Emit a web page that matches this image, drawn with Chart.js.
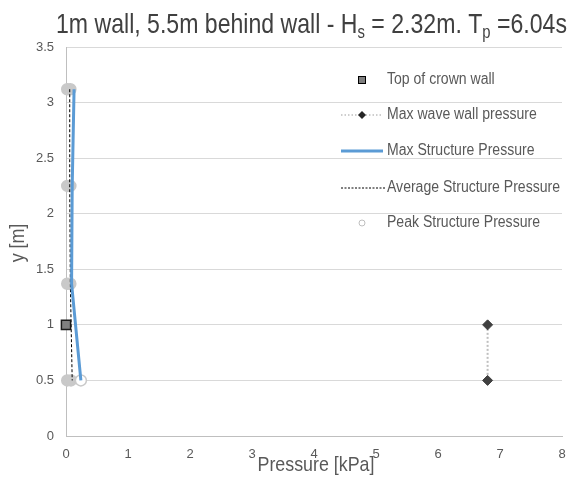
<!DOCTYPE html>
<html>
<head>
<meta charset="utf-8">
<script src="https://cdn.jsdelivr.net/npm/chart.js@4.4.0/dist/chart.umd.min.js"></script>
<style>
html,body{margin:0;padding:0;background:#fff;}
canvas{display:block;}
</style>
</head>
<body>
<canvas id="c" width="570" height="479"></canvas>
<script>
// ---- data ----
const crownWallX = [0];
const crownWallY = [1];
const waveWallX = [6.8, 6.8];
const waveWallY = [1, 0.5];
const structLevels = [3.12, 2.25, 1.37, 0.5];
const maxStructX = [0.13, 0.10, 0.09, 0.24];
const avgStructX = [0.06, 0.06, 0.07, 0.10];
const peakX = [0.02, 0.07, 0.02, 0.07, 0.02, 0.07, 0.02, 0.08, 0.24];
const peakY = [3.12, 3.12, 2.25, 2.25, 1.37, 1.37, 0.5, 0.5, 0.5];
const yTickLabels = ['0', '0.5', '1', '1.5', '2', '2.5', '3', '3.5'];
const xTickLabels = ['0', '1', '2', '3', '4', '5', '6', '7', '8'];
const seriesNames = ['Top of crown wall', 'Max wave wall pressure', 'Max Structure Pressure', 'Average Structure Pressure', 'Peak Structure Pressure'];

const pts = (xs, ys) => xs.map((x, i) => ({x, y: ys[i]}));
const FONT = "'Liberation Sans', Arial, sans-serif";
const TXT = '#595959';

// draw horizontally condensed text (Arial Narrow look)
function narrowText(ctx, text, x, y, font, align, sx) {
  ctx.save();
  ctx.font = font;
  ctx.textAlign = align;
  ctx.translate(x, y);
  ctx.scale(sx, 1);
  ctx.fillText(text, 0, 0);
  ctx.restore();
}

const overlay = {
  id: 'overlay',
  afterDraw(chart) {
    const ctx = chart.ctx;
    ctx.save();
    // title with subscripts
    const big = "28px " + FONT, small = "18px " + FONT;
    const parts = [
      ['1m wall, 5.5m behind wall - H', big, 0],
      ['s', small, 5],
      [' = 2.32m. T', big, 0],
      ['p', small, 5],
      [' =6.04s', big, 0]
    ];
    let w = 0;
    parts.forEach(p => { ctx.font = p[1]; w += ctx.measureText(p[0]).width; });
    const tsx = 511 / w;
    ctx.fillStyle = '#404040';
    ctx.textBaseline = 'alphabetic';
    ctx.save();
    ctx.translate(56, 33);
    ctx.scale(tsx, 1);
    let x = 0;
    parts.forEach(p => { ctx.font = p[1]; ctx.textAlign = 'left'; ctx.fillText(p[0], x, p[2]); x += ctx.measureText(p[0]).width; });
    ctx.restore();

    // axis titles
    ctx.fillStyle = TXT;
    ctx.textBaseline = 'middle';
    const af = "21px " + FONT;
    ctx.font = af;
    const asx = 117 / ctx.measureText('Pressure [kPa]').width;
    narrowText(ctx, 'Pressure [kPa]', 316, 465, af, 'center', asx);
    ctx.save();
    ctx.translate(18, 243);
    ctx.rotate(-Math.PI / 2);
    narrowText(ctx, 'y [m]', 0, 0, af, 'center', asx);
    ctx.restore();

    // legend
    const rows = [80, 115, 151, 188, 223];
    const lx0 = 341, lx1 = 383, mx = 362, tx = 387;
    const lf = "16px " + FONT;
    ctx.font = lf;
    const lsx = 173 / ctx.measureText(seriesNames[3]).width;
    ctx.textBaseline = 'middle';
    rows.forEach((ry, i) => {
      ctx.fillStyle = TXT;
      narrowText(ctx, seriesNames[i], tx, ry, lf, 'left', lsx);
    });
    // 0: square
    ctx.fillStyle = '#7F7F7F'; ctx.strokeStyle = '#000'; ctx.lineWidth = 1;
    ctx.fillRect(mx - 3.5, rows[0] - 3.5, 7, 7); ctx.strokeRect(mx - 3.5, rows[0] - 3.5, 7, 7);
    // 1: dotted line + diamond
    ctx.strokeStyle = '#BFBFBF'; ctx.lineWidth = 1.5; ctx.setLineDash([1.5, 2]);
    ctx.beginPath(); ctx.moveTo(lx0, rows[1]); ctx.lineTo(lx1, rows[1]); ctx.stroke();
    ctx.setLineDash([]);
    ctx.fillStyle = '#262626';
    ctx.beginPath(); ctx.moveTo(mx, rows[1] - 4); ctx.lineTo(mx + 4, rows[1]); ctx.lineTo(mx, rows[1] + 4); ctx.lineTo(mx - 4, rows[1]); ctx.closePath(); ctx.fill();
    // 2: blue line
    ctx.strokeStyle = '#5B9BD5'; ctx.lineWidth = 3;
    ctx.beginPath(); ctx.moveTo(lx0, rows[2]); ctx.lineTo(lx1, rows[2]); ctx.stroke();
    // 3: dashed black
    ctx.strokeStyle = '#000'; ctx.lineWidth = 1; ctx.setLineDash([2, 1.5]);
    ctx.beginPath(); ctx.moveTo(lx0, rows[3]); ctx.lineTo(lx1 + 2, rows[3]); ctx.stroke();
    ctx.setLineDash([]);
    // 4: hollow circle
    ctx.strokeStyle = '#BFBFBF'; ctx.lineWidth = 1; ctx.fillStyle = '#fff';
    ctx.beginPath(); ctx.arc(mx, rows[4], 3, 0, Math.PI * 2); ctx.fill(); ctx.stroke();
    ctx.restore();
  }
};

new Chart(document.getElementById('c'), {
  type: 'scatter',
  data: {
    datasets: [
      {
        label: seriesNames[1],
        data: pts(waveWallX, waveWallY),
        showLine: true,
        clip: false,
        borderColor: '#BFBFBF',
        borderWidth: 2,
        borderDash: [2, 2],
        pointStyle: 'rectRot',
        pointRadius: 5,
        pointBackgroundColor: '#404040',
        pointBorderColor: '#404040',
        pointBorderWidth: 1,
        order: 4
      },
      {
        label: seriesNames[4],
        data: pts(peakX, peakY),
        showLine: false,
        clip: false,
        pointRadius: 5.5,
        pointBorderWidth: 1.5,
        pointBorderColor: '#C9C9C9',
        pointBackgroundColor: peakX.map((x, i) => i === peakX.length - 1 ? '#ffffff' : '#C9C9C9'),
        order: 5
      },
      {
        label: seriesNames[3],
        data: pts(avgStructX, structLevels),
        showLine: true,
        clip: false,
        borderColor: '#000000',
        borderWidth: 1,
        borderDash: [3, 2],
        pointRadius: 0,
        order: 3
      },
      {
        label: seriesNames[2],
        data: pts(maxStructX, structLevels),
        showLine: true,
        clip: false,
        borderColor: '#5B9BD5',
        borderWidth: 3,
        pointRadius: 0,
        order: 2
      },
      {
        label: seriesNames[0],
        data: pts(crownWallX, crownWallY),
        showLine: false,
        clip: false,
        pointStyle: 'rect',
        pointRadius: 6.5,
        pointBackgroundColor: '#7F7F7F',
        pointBorderColor: '#1a1a1a',
        pointBorderWidth: 1.5,
        order: 1
      }
    ]
  },
  options: {
    responsive: false,
    animation: false,
    devicePixelRatio: 1,
    layout: { padding: { top: 47, right: 4, left: 0, bottom: 0 } },
    plugins: { legend: { display: false }, tooltip: { enabled: false }, title: { display: false } },
    scales: {
      x: {
        type: 'linear', min: 0, max: 8,
        grid: { display: false },
        border: { display: true, color: '#BFBFBF', width: 1 },
        ticks: { stepSize: 1, color: TXT, font: { family: FONT, size: 13 }, padding: 3,
          callback: (v, i) => xTickLabels[i] },
        afterFit: s => { s.height = 43; }
      },
      y: {
        type: 'linear', min: 0, max: 3.5,
        grid: { color: '#D9D9D9', drawTicks: false },
        border: { display: true, color: '#BFBFBF', width: 1 },
        ticks: { stepSize: 0.5, color: TXT, font: { family: FONT, size: 13 }, padding: 12,
          callback: (v, i) => yTickLabels[i] },
        afterFit: s => { s.width = 66; }
      }
    }
  },
  plugins: [overlay]
});
</script>
</body>
</html>
